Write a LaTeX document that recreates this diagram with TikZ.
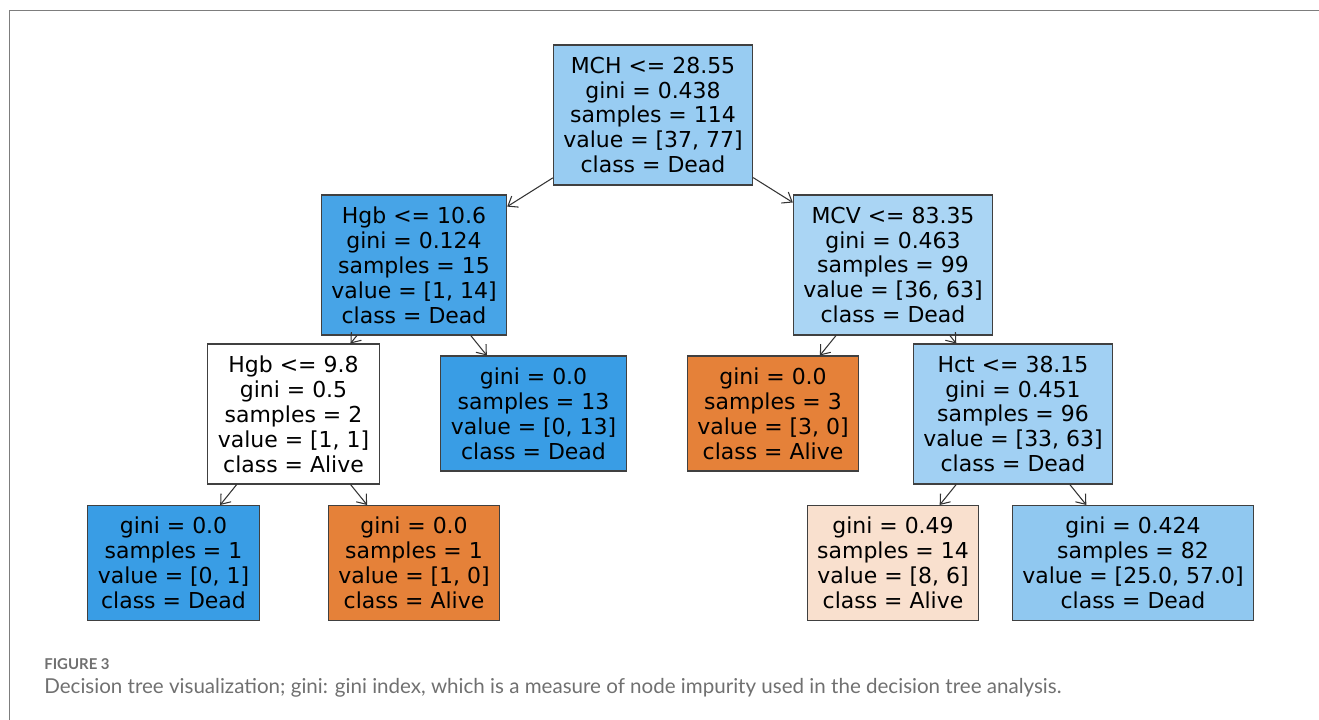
\documentclass[tikz,border=0pt]{standalone}
\usepackage{fontspec}
\usepackage{xcolor}
\usetikzlibrary{arrows.meta, positioning}

\newfontfamily\treefont{DejaVu Sans}
\newfontfamily\capfont{Lato}

\definecolor{deadfull}{RGB}{57,157,229}
\definecolor{alivefull}{RGB}{229,129,57}
\definecolor{deadroot}{RGB}{152,204,242}
\definecolor{deadhgb}{RGB}{71,164,231}
\definecolor{deadmcv}{RGB}{170,213,244}
\definecolor{deadhct}{RGB}{161,208,243}
\definecolor{deadlast}{RGB}{144,200,240}
\definecolor{alivepale}{RGB}{249,224,206}
\definecolor{framegray}{RGB}{125,125,125}
\definecolor{capgray}{RGB}{112,112,112}

\begin{document}
\begin{tikzpicture}[
  x=0.02cm, y=-0.02cm,
  >={Straight Barb[length=1.7mm,width=2.6mm]},
  box/.style={draw=black!75, line width=0.6pt, inner xsep=0.2cm, inner ysep=0pt,
              align=center, font=\treefont\fontsize{12.5}{14.2}\selectfont},
  split/.style={box, minimum height=2.8cm},
  leaf/.style={box, minimum height=2.3cm},
  edge/.style={->, draw=black!80, line width=0.6pt},
  frame/.style={draw=framegray, line width=0.7pt},
  caphead/.style={font=\capfont\bfseries\fontsize{8.5}{10}\selectfont, text=capgray, inner sep=0pt},
  captext/.style={font=\capfont\fontsize{11.7}{14}\selectfont, text=capgray, inner sep=0pt}
]
  \useasboundingbox (0,0) rectangle (1319,720);
  \draw[frame] (9.5,720) -- (9.5,10.5) -- (1319,10.5);

  % splits
  \node[split, fill=deadroot] (mch) at (653,115)
    {MCH <= 28.55\\gini = 0.438\\samples = 114\\value = [37, 77]\\class = Dead};
  \node[split, fill=deadhgb] (hgbhi) at (414,265)
    {Hgb <= 10.6\\gini = 0.124\\samples = 15\\value = [1, 14]\\class = Dead};
  \node[split, fill=deadmcv] (mcv) at (893,265)
    {MCV <= 83.35\\gini = 0.463\\samples = 99\\value = [36, 63]\\class = Dead};
  \node[split, fill=white] (hgblo) at (293.5,414)
    {Hgb <= 9.8\\gini = 0.5\\samples = 2\\value = [1, 1]\\class = Alive};
  \node[split, fill=deadhct] (hct) at (1013,414)
    {Hct <= 38.15\\gini = 0.451\\samples = 96\\value = [33, 63]\\class = Dead};

  % leaves
  \node[leaf, fill=deadfull] (leafB) at (533.5,413.5)
    {gini = 0.0\\samples = 13\\value = [0, 13]\\class = Dead};
  \node[leaf, fill=alivefull] (leafC) at (773,413.5)
    {gini = 0.0\\samples = 3\\value = [3, 0]\\class = Alive};
  \node[leaf, fill=deadfull] (leafD) at (173.5,563)
    {gini = 0.0\\samples = 1\\value = [0, 1]\\class = Dead};
  \node[leaf, fill=alivefull] (leafE) at (414,563)
    {gini = 0.0\\samples = 1\\value = [1, 0]\\class = Alive};
  \node[leaf, fill=alivepale] (leafF) at (893,563)
    {gini = 0.49\\samples = 14\\value = [8, 6]\\class = Alive};
  \node[leaf, fill=deadlast] (leafG) at (1133,563)
    {gini = 0.424\\samples = 82\\value = [25.0, 57.0]\\class = Dead};

  \draw[edge] (mch) -- (hgbhi);
  \draw[edge] (mch) -- (mcv);
  \draw[edge] (hgbhi) -- (hgblo);
  \draw[edge] (hgbhi) -- (leafB);
  \draw[edge] (mcv) -- (leafC);
  \draw[edge] (mcv) -- (hct);
  \draw[edge] (hgblo) -- (leafD);
  \draw[edge] (hgblo) -- (leafE);
  \draw[edge] (hct) -- (leafF);
  \draw[edge] (hct) -- (leafG);

  \node[caphead, anchor=base west] (fig) at (44,669) {FIGURE 3};
  \node[captext, anchor=base west] (cap) at (44,693)
    {Decision tree visualization; gini: gini index, which is a measure of node impurity used in the decision tree analysis.};
\end{tikzpicture}
\end{document}
